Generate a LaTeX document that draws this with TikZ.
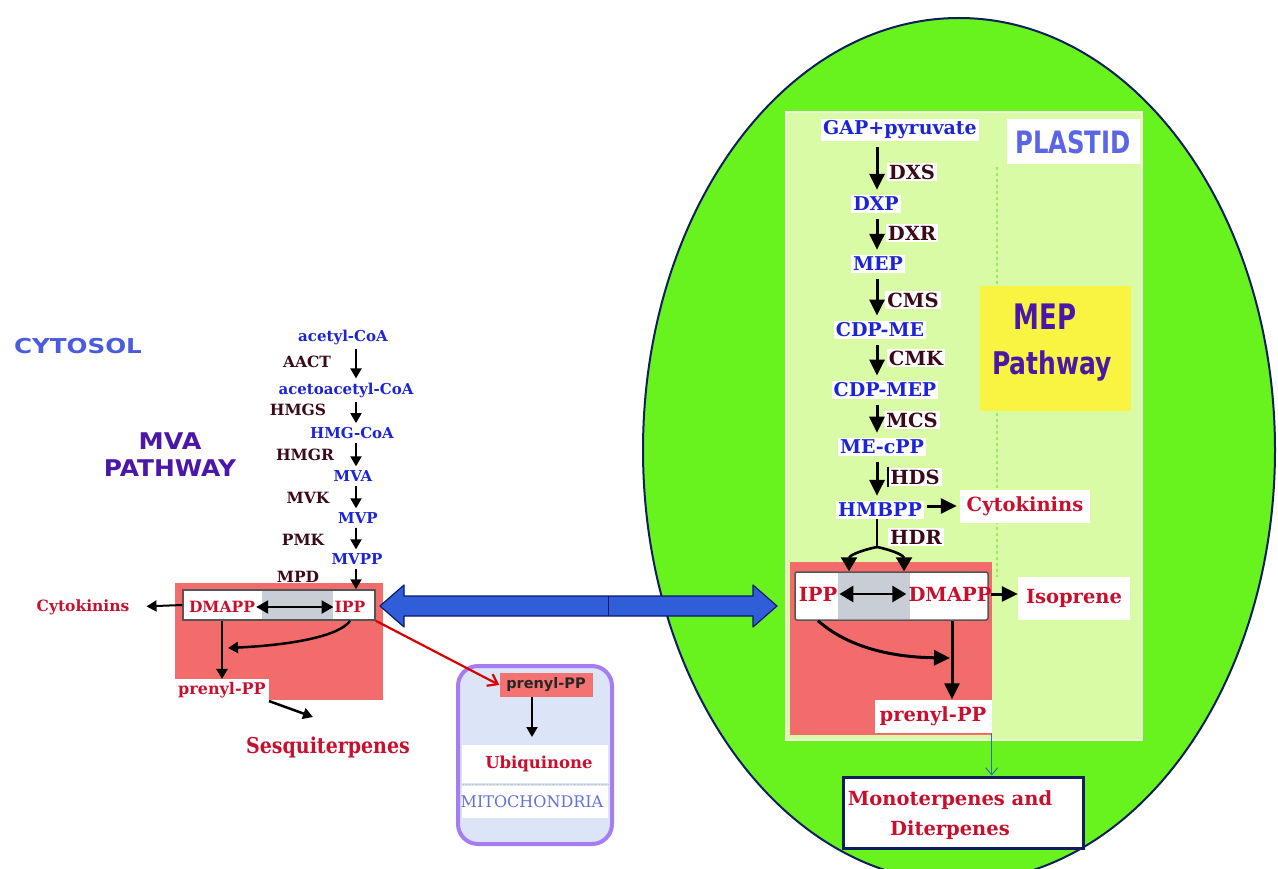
\documentclass[tikz,border=0pt]{standalone}
\usepackage{fontspec}
\setmainfont{DejaVu Serif}
\newfontfamily\sansbf{DejaVu Sans}
\usetikzlibrary{arrows.meta,calc}
\newcommand\myfs[1]{\fontsize{#1}{#1}\selectfont}
\newcommand\myfl[2]{\fontsize{#1}{#2}\selectfont}
\definecolor{plgreen}{HTML}{68F21E}
\definecolor{lightgr}{HTML}{DAFBA6}
\definecolor{yellowc}{HTML}{F8F441}
\definecolor{salmon}{HTML}{F36C6C}
\definecolor{salmonM}{HTML}{F57272}
\definecolor{grayreg}{HTML}{C9CED6}
\definecolor{boxgray}{HTML}{555555}
\definecolor{metblue}{HTML}{1B24D6}
\definecolor{enzdark}{HTML}{3A0A18}
\definecolor{redtext}{HTML}{C8102E}
\definecolor{navy}{HTML}{0E1F5C}
\definecolor{arrblue}{HTML}{2F5ED8}
\definecolor{arrnavy}{HTML}{0B1A6E}
\definecolor{mitof}{HTML}{DCE4F7}
\definecolor{mitob}{HTML}{A67CF2}
\definecolor{mitoc}{HTML}{6270DE}
\definecolor{cytoc}{HTML}{4A5CDD}
\definecolor{pathc}{HTML}{4A17A8}
\definecolor{plastidc}{HTML}{5A66E6}
\definecolor{dashc}{HTML}{9EE868}
\definecolor{thinbl}{HTML}{3070B0}
\tikzset{
 arrL/.style={line width=2, -{Triangle[length=10,width=11]}},
 chainL/.style={arrL, shorten <=3pt, shorten >=3pt},
 arrR/.style={line width=3, -{Triangle[length=16,width=15]}},
 chainR/.style={arrR, shorten <=6pt, shorten >=5pt},
 dblL/.style={line width=2.2, {Triangle[length=12,width=13]}-{Triangle[length=12,width=13]}},
 dblR/.style={line width=2.8, {Triangle[length=14,width=16]}-{Triangle[length=14,width=16]}},
 metL/.style={text=metblue, font=\myfs{15}\bfseries, inner sep=1pt},
 enzL/.style={text=enzdark, font=\myfs{15.5}\bfseries, inner sep=1pt},
 metR/.style={text=metblue, fill=white, font=\myfs{19}\bfseries, inner sep=2pt},
 enzR/.style={text=enzdark, fill=white, font=\myfs{19.5}\bfseries, inner sep=2pt},
 redL/.style={text=redtext, font=\myfs{15.5}\bfseries, inner sep=1pt},
 redR/.style={text=redtext, font=\myfs{19.5}\bfseries, inner sep=2pt},
 sanslabel/.style={font=\sansbf\bfseries\myfs{#1}},
 redarrow/.style={draw=red!85!black, line width=2.2, -{Straight Barb[length=9,width=13]}},
 thinarrow/.style={draw=thinbl, line width=1, -{Straight Barb[length=7,width=12]}},
}
\begin{document}
\begin{tikzpicture}[x=1pt,y=-1pt]
\useasboundingbox (0,0) rectangle (1278,869);
\clip (0,0) rectangle (1278,869);
\fill[white] (0,0) rectangle (1278,869);

% ---------- PLASTID (right) backgrounds ----------
\draw[fill=plgreen, draw=navy, line width=2] (959,450) ellipse [x radius=316, y radius=432];
\draw[fill=lightgr, draw=white!60!lightgr, line width=2] (786,112) rectangle (1142,740);
\draw[dashc, dashed, line width=1.2] (997,167) -- (997,577);
\fill[yellowc] (980,286) rectangle (1131,411);
\fill[salmon] (790,562) rectangle (992,735);

% ---------- CYTOSOL (left) backgrounds ----------
\fill[salmon] (175,583) rectangle (383,700);

% ---------- MITOCHONDRIA ----------
\node[draw=mitob, fill=mitof, line width=4, rounded corners=20, minimum width=154, minimum height=178, inner sep=0] (mito) at (535,755) {};
\fill[white] (462,745) rectangle (608,783);
\fill[white] (462,786) rectangle (608,818);
\draw[gray!45, densely dotted] (462,784.5) -- (608,784.5);

% ---------- left labels ----------
\node[text=cytoc, sanslabel=20.5] (cytosol) at (78,346) {\scalebox{1.2}[1]{CYTOSOL}};
\node[text=pathc, sanslabel=23] (mvaT) at (170,441) {\scalebox{1.1}[1]{MVA}};
\node[text=pathc, sanslabel=23] (mvaP) at (170,468) {\scalebox{1.08}[1]{PATHWAY}};

% ---------- MVA chain ----------
\coordinate (colL) at (356,0);
\node[metL] (acetyl) at (343,337) {acetyl-CoA};
\node[metL] (acac) at (346,390) {acetoacetyl-CoA};
\node[metL] (hmgcoa) at (352,433) {HMG-CoA};
\node[metL] (mva) at (353,476) {MVA};
\node[metL] (mvp) at (358,518) {MVP};
\node[metL] (mvpp) at (357,559) {MVPP};
\node[enzL] (aact) at (307,362) {AACT};
\node[enzL] (hmgs) at (298,410) {HMGS};
\node[enzL] (hmgr) at (305,455) {HMGR};
\node[enzL] (mvk) at (308,498) {MVK};
\node[enzL] (pmk) at (303,540) {PMK};
\node[enzL] (mpd) at (298,577) {MPD};

% left IPP/DMAPP box
\node[draw=boxgray, fill=white, line width=1.5, minimum width=192, minimum height=30, inner sep=0] (boxL) at (279,605) {};
\fill[grayreg] (262,591) rectangle (333,619);
\node[redL] (dmappL) at (222,607) {DMAPP};
\node[redL] (ippL) at (350,607) {IPP};
\node[redL] (cytoL) at (83,607) {Cytokinins};
\node[fill=white, redL, font=\myfs{16}\bfseries, inner sep=3pt] (prenylL) at (222,690) {prenyl-PP};
\node[redL, font=\myfs{19}\bfseries] (sesq) at (328,747) {\scalebox{1}[1.15]{Sesquiterpenes}};

% mitochondria content
\node[fill=salmonM, text=black!85, sanslabel=14.5, minimum width=93, minimum height=24, inner sep=0] (prenylM) at (546,685) {prenyl-PP};
\node[redL, font=\myfs{16.5}\bfseries] (ubi) at (539,764) {Ubiquinone};
\node[text=mitoc, font=\myfs{16}, inner sep=1pt] (mitoT) at (532,802) {MITOCHONDRIA};

% ---------- right labels ----------
\node[fill=white, text=plastidc, sanslabel=28, minimum width=133, minimum height=45, inner sep=0] (plastid) at (1073,142) {\scalebox{0.87}[1.1]{PLASTID}};
\node[text=pathc, sanslabel=26] (mepT) at (1045,317) {\scalebox{1}[1.35]{MEP}};
\node[text=pathc, sanslabel=25] (mepP) at (1052,366) {\scalebox{1}[1.25]{Pathway}};

% ---------- MEP chain ----------
\coordinate (colR) at (877,0);
\node[metR] (gap) at (900,130) {GAP+pyruvate};
\node[enzR] (dxs) at (912,172) {DXS};
\node[metR] (dxp) at (876,204) {DXP};
\node[enzR] (dxr) at (912,233) {DXR};
\node[metR] (mep) at (878,264) {MEP};
\node[enzR] (cms) at (913,300) {CMS};
\node[metR] (cdpme) at (880,330) {CDP-ME};
\node[enzR] (cmk) at (916,358) {CMK};
\node[metR] (cdpmep) at (885,390) {CDP-MEP};
\node[enzR] (mcs) at (912,420) {MCS};
\node[metR] (mecpp) at (882,447) {ME-cPP};
\node[enzR] (hds) at (915,477) {HDS};
\node[metR] (hmbpp) at (880,510) {HMBPP};
\node[enzR] (hdr) at (916,537) {HDR};
\node[fill=white, redR, minimum width=130, minimum height=33] (cytoR) at (1025,506) {Cytokinins};

% right IPP/DMAPP box
\node[draw=boxgray, fill=white, line width=1.5, rounded corners=2, minimum width=193, minimum height=48, inner sep=0] (boxR) at (891.5,596) {};
\fill[grayreg] (838,573) rectangle (910,619);
\node[redR] (ippR) at (818,594) {IPP};
\node[redR] (dmappR) at (950,594) {DMAPP};
\node[fill=white, redR, minimum width=112, minimum height=43] (iso) at (1074,598) {Isoprene};
\node[fill=white, redR, minimum width=117, minimum height=33] (prenylR) at (933,716) {prenyl-PP};
\node[draw=navy, fill=white, line width=3, minimum width=240, minimum height=71, inner sep=0] (monoBox) at (963,812.5) {};
\node[text=redtext, font=\myfl{19.5}{30}\bfseries, align=center, inner sep=0] (mono) at (950,815) {Monoterpenes and\\Diterpenes};

% ---------- connectors: MVA ----------
\draw[chainL] (acetyl.south -| colL) -- (acac.north -| colL);
\draw[chainL] (acac.south -| colL) -- (hmgcoa.north -| colL);
\draw[chainL] (hmgcoa.south -| colL) -- (mva.north -| colL);
\draw[chainL] (mva.south -| colL) -- (mvp.north -| colL);
\draw[chainL] (mvp.south -| colL) -- (mvpp.north -| colL);
\draw[arrL, shorten <=3pt] (mvpp.south -| colL) -- (boxL.north -| colL);
\draw[dblL] (dmappL.east) -- (ippL.west);
\draw[arrL, shorten >=16pt] (boxL.west) -- (cytoL.east);
\coordinate (vL) at (222,0);
\draw[arrL, line width=2.5] (boxL.south -| vL) -- (prenylL.north -| vL);
\coordinate (jL) at (228,648);
\draw[arrL, line width=2.5] (ippL.south |- boxL.south) .. controls (340,636) and (292,645) .. (jL);
\coordinate (sqA) at (313,717);
\draw[arrL, line width=2.5] (prenylL.south east) -- (sqA);

% transport arrows
\coordinate (baL) at (380,606);
\coordinate (baR) at (777,606);
\draw[fill=arrblue, draw=arrnavy, line width=1.2, line join=round]
  (baL) -- ++(24,-21) -- ++(0,11) -- ($(baR)+(-24,-10)$) -- ++(0,-11) -- (baR)
  -- ++(-24,21) -- ++(0,-11) -- ($(baL)+(24,10)$) -- ++(0,11) -- cycle;
\draw[arrnavy, line width=1] ($(baL)!0.575!(baR)+(0,-10)$) -- ($(baL)!0.575!(baR)+(0,10)$);
\draw[redarrow] (boxL.south east) -- (prenylM.west);
\coordinate (ubA) at (532,737);
\draw[arrL] (prenylM.south -| ubA) -- (ubA);

% ---------- connectors: MEP ----------
\draw[chainR] (gap.south -| colR) -- (dxp.north -| colR);
\draw[chainR] (dxp.south -| colR) -- (mep.north -| colR);
\draw[chainR] (mep.south -| colR) -- (cdpme.north -| colR);
\draw[chainR] (cdpme.south -| colR) -- (cdpmep.north -| colR);
\draw[chainR] (cdpmep.south -| colR) -- (mecpp.north -| colR);
\draw[chainR] (mecpp.south -| colR) -- (hmbpp.north -| colR);
\draw[line width=1.2] (hds.north west) -- (hds.south west);
\draw[arrR, shorten <=3pt, shorten >=3pt] (hmbpp.east |- cytoR.west) -- (cytoR.west);
\coordinate (forkR) at (877,547);
\coordinate (fkL) at (849,0);
\coordinate (fkR) at (904,0);
\draw[line width=2.2] (hmbpp.south -| colR) -- (forkR);
\draw[arrR, line width=2.6, -{Triangle[length=14,width=16]}] (forkR) .. controls (858,551) and (849,556) .. (boxR.north -| fkL);
\draw[arrR, line width=2.6, -{Triangle[length=14,width=16]}] (forkR) .. controls (896,551) and (904,556) .. (boxR.north -| fkR);
\draw[dblR] (ippR.east) -- (dmappR.west);
\draw[arrR, shorten <=2pt] (boxR.east |- dmappR) -- (iso.west |- dmappR);
\coordinate (jR) at (950,658);
\draw[arrR] (ippR.south |- boxR.south) .. controls (842,642) and (880,657) .. (jR);
\coordinate (vR) at (952,0);
\draw[arrR] (boxR.south -| vR) -- (prenylR.north -| vR);
\draw[thinarrow] (prenylR.south east) -- (monoBox.north -| prenylR.south east);
\end{tikzpicture}
\end{document}
